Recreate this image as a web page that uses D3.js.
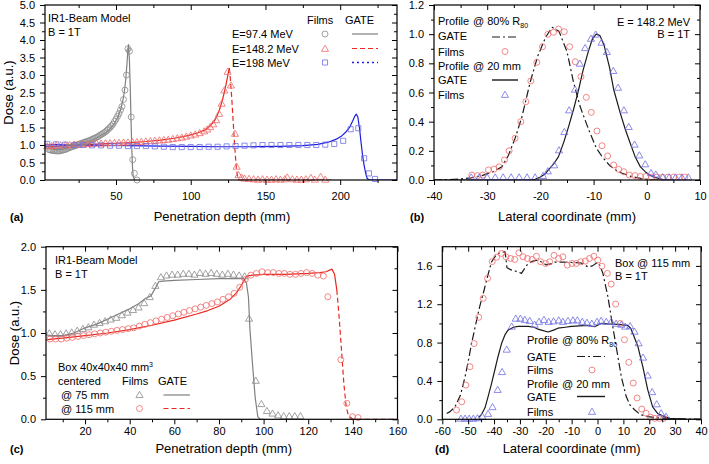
<!DOCTYPE html>
<html><head><meta charset="utf-8">
<script src="https://cdn.jsdelivr.net/npm/d3@7"></script>
<style>
body{margin:0;background:#fff}
svg text{font-family:Arial,"Liberation Sans",Helvetica,sans-serif;fill:#000}
</style></head><body>
<svg id="c" width="709" height="464"></svg>
<script>
// ---------- Panel (a) ----------
const aGrayGateX = [2.5,5,8,10,12,15,18,20,25,30,35,40,43,46,49,51,53,54.5,55.5,56.5,57.3,58,58.4,59,59.5,60,60.5,61,61.5,62.5];
const aGrayGateY = [0.92,0.9,0.88,0.87,0.87,0.88,0.91,0.94,1.01,1.08,1.15,1.28,1.35,1.46,1.62,1.78,2.0,2.25,2.5,2.85,3.3,3.75,3.87,3.4,2.7,1.8,1.0,0.4,0.1,0.0];
const aGrayFilmX = [5,6,7,8,9,10,11,12,13,14,15,16,17,18,19,20,21,22,23,24,25,26,27,28,29,30,31,32,33,34,35,36,37,38,39,40,41,42,43,44,45,46,47,48,49,50,51,52,53,54,55,56,57,58,59,60.2,61.2,62.3,64];
const aGrayFilmY = [0.87,0.86,0.85,0.84,0.84,0.83,0.83,0.83,0.84,0.85,0.86,0.87,0.89,0.91,0.93,0.94,0.96,0.97,0.99,1.0,1.02,1.03,1.05,1.06,1.08,1.09,1.11,1.12,1.14,1.16,1.18,1.2,1.22,1.24,1.27,1.3,1.32,1.35,1.38,1.42,1.46,1.5,1.55,1.6,1.67,1.74,1.82,1.9,2.0,2.1,2.3,2.57,3.0,3.75,3.68,1.8,0.58,0.19,0.0];
const aRedGateX = [2.5,10,20,30,40,50,60,70,80,90,95,100,105,110,113,116,117.3,119,121,123,124.5,125.3,125.8];
const aRedGateY = [0.95,0.96,0.99,1.01,1.03,1.05,1.07,1.1,1.14,1.2,1.24,1.29,1.35,1.44,1.55,1.7,1.81,1.98,2.25,2.6,2.92,3.1,3.2];
const aRedDropX = [125.8,126.5,127.5,128.5,129.5,130.5,131.5,132.5,160,195];
const aRedDropY = [3.2,2.9,2.3,1.6,0.9,0.35,0.05,0,0,0];
const aRedFilmX = [4,7,10,13,16,19,22,25,28,31,34,37,40,43,46,49,52,55,58,61,64,67,70,73,76,79,82,85,88,91,94,97,100,103,106,109,111,113,115,117,119,120.7,122.5,124.7,126.9,129.6,130.7,132,134,136,139,142,145,148,151,154,157,160,163,164.6,168,171,174,177,180.4,183,186.9,190];
const aRedFilmY = [0.97,0.98,0.99,1.0,1.0,1.01,1.02,1.02,1.03,1.03,1.04,1.05,1.05,1.06,1.06,1.07,1.07,1.08,1.08,1.09,1.09,1.1,1.11,1.12,1.13,1.14,1.15,1.16,1.18,1.2,1.22,1.25,1.28,1.31,1.35,1.4,1.45,1.52,1.6,1.72,1.9,2.19,2.57,3.1,2.71,1.33,0.39,0.15,0.08,0.05,0.04,0.03,0.02,0.03,0.02,0.02,0.03,0.02,0.03,0.08,0.03,0.02,0.02,0.03,0.07,0.02,0.1,0.02];
const aBlueGateX = [2.5,10,20,40,60,80,100,120,140,160,175,185,192,197,201,204,206.5,208.5,210,210.8,211.8,213,214,215,216,217,218,219,221,238];
const aBlueGateY = [1.0,1.01,1.0,0.99,0.98,0.97,0.96,0.95,0.95,0.96,0.98,1.02,1.08,1.16,1.26,1.38,1.52,1.7,1.84,1.88,1.8,1.45,1.05,0.7,0.42,0.2,0.05,0.01,0.0,0.0];
const aBlueFilmX = [4,10,16,22,28,34,40,46,52,58,64,70,76,82,88,94,100,106,112,118,124,130,136,142,148,154,160,166,172,178,184,190,196,202,207,212.1,216,219.2,223.3];
const aBlueFilmY = [1.03,1.02,1.01,1.0,1.0,0.99,0.99,0.98,0.98,0.97,0.97,0.97,0.96,0.95,0.94,0.94,0.94,0.94,0.95,0.95,0.96,0.97,0.98,0.99,1.0,1.0,1.0,1.0,1.0,1.0,1.0,1.01,1.03,1.12,1.45,1.48,0.62,0.19,0.03];
const aXTicks = [50,100,150,200];
const aXMinor = [25,75,125,175,225];
const aYTicks = [0,0.5,1,1.5,2,2.5,3,3.5,4,4.5,5];
const aYMinor = [0.25,0.75,1.25,1.75,2.25,2.75,3.25,3.75,4.25,4.75];
const aLegendE = ["E=97.4 MeV","E=148.2 MeV","E=198 MeV"];

// ---------- Panel (b) ----------
const bRedGateX = [-40,-37,-35,-33,-31,-29,-27.25,-26,-24.75,-23.5,-21.9,-20.5,-19,-17.8,-16.5,-15,-13.8,-12.5,-10.9,-9.5,-8.4,-7,-5.5,-4.6,-3,-1,0,2,5];
const bRedGateY = [0.0,0.003,0.008,0.015,0.03,0.055,0.09,0.17,0.286,0.43,0.674,0.85,0.98,1.047,1.02,0.88,0.674,0.5,0.343,0.22,0.16,0.1,0.06,0.046,0.025,0.01,0.005,0.0,0.0];
const bRedFilmX = [-32.9,-31.84,-30.83,-29.77,-28.7,-27.76,-26.76,-25.88,-24.75,-23.68,-22.74,-21.8,-20.67,-19.6,-18.6,-17.53,-16.59,-15.52,-14.51,-13.45,-12.38,-11.37,-10.43,-9.37,-8.42,-7.36,-6.23,-5.29,-4.34,-3.28,-2.24,-1.2,-0.16,0.88,1.92,2.96,4.0,5.04,6.08,7.12];
const bRedFilmY = [0.034,0.03,0.034,0.069,0.075,0.09,0.137,0.2,0.286,0.4,0.537,0.679,0.807,0.914,0.999,1.013,1.035,1.017,0.914,0.811,0.709,0.567,0.464,0.336,0.235,0.165,0.103,0.073,0.057,0.034,0.03,0.025,0.025,0.02,0.02,0.02,0.02,0.02,0.02,0.02];
const bBlkGateX = [-40,-30,-22,-21,-20,-19,-18.5,-17.5,-16.6,-15.6,-14.7,-13.8,-12.9,-12,-11,-10.2,-9.5,-8.8,-8,-7,-6.2,-5,-4,-3,-2.2,-1.2,-0.3,0.5,1.3,2.9,5];
const bBlkGateY = [0,0,0,0.005,0.02,0.045,0.069,0.11,0.16,0.26,0.366,0.48,0.606,0.75,0.88,0.97,1.0,0.99,0.92,0.77,0.617,0.46,0.343,0.24,0.16,0.09,0.057,0.035,0.02,0.005,0];
const bBlueFilmX = [-33,-31.5,-30,-28.5,-27,-25.5,-24,-22.5,-21,-19.5,-18.6,-17.4,-16.5,-15.5,-14.6,-13.5,-12.6,-11.6,-10.5,-9.6,-8.5,-7.5,-6.3,-5.4,-4.3,-3.4,-2.3,-1.4,-0.3,0.8,1.7,3.0,4.2,5.4,6.6,7.8];
const bBlueFilmY = [0.02,0.02,0.02,0.02,0.02,0.02,0.02,0.02,0.02,0.03,0.062,0.103,0.206,0.331,0.48,0.622,0.8,0.907,0.971,0.999,0.944,0.88,0.75,0.635,0.48,0.366,0.245,0.171,0.11,0.05,0.04,0.02,0.02,0.02,0.02,0.02];
const bXTicks = [-40,-30,-20,-10,0,10];
const bXMinor = [-35,-25,-15,-5,5];
const bYTicks = [0,0.2,0.4,0.6,0.8,1.0,1.2];
const bYMinor = [0.1,0.3,0.5,0.7,0.9,1.1];

// ---------- Panel (c) ----------
const cGrayGateX = [2.5,5,10,15,20,25,30,35,40,44,47,49.5,51.5,53,55,60,70,80,88,91,92.3,93.2,93.9,95,96.2,97.4,98.5,100];
const cGrayGateY = [0.98,0.97,0.97,1.0,1.06,1.1,1.16,1.22,1.28,1.34,1.4,1.43,1.52,1.594,1.6,1.61,1.62,1.63,1.63,1.632,1.58,1.42,1.036,0.65,0.26,0.03,0,0];
const cGrayFilmX = [4,6.5,9,11.5,14,16.5,19,21.5,24,26.5,29,31.5,34,36.5,39,41.5,44,46.5,49,51.5,54,56.5,59,61.5,64,66.5,69,71.5,74,76.5,79,81.5,84,86.5,89,91.5,93.5,96.5,99,101.5,104,106.5,109,111.5,114,116.5];
const cGrayFilmY = [1.0,0.99,0.99,1.0,1.01,1.03,1.05,1.07,1.1,1.12,1.14,1.16,1.18,1.21,1.24,1.27,1.3,1.35,1.42,1.55,1.65,1.67,1.68,1.68,1.69,1.69,1.68,1.7,1.69,1.7,1.69,1.68,1.69,1.68,1.67,1.66,1.17,0.45,0.18,0.1,0.07,0.05,0.04,0.04,0.04,0.04];
const cRedGateX = [2.5,5,10,20,30,40,50,60,70,75,80,85,88,90,91.5,92.5,95,100,110,120,125,128,130.6,131.8,132.8];
const cRedGateY = [0.92,0.93,0.94,0.97,1.0,1.04,1.09,1.15,1.22,1.26,1.31,1.39,1.47,1.55,1.62,1.66,1.67,1.68,1.68,1.69,1.7,1.71,1.74,1.68,1.5];
const cRedDropX = [132.8,133.8,135,136,137,138,140,160];
const cRedDropY = [1.5,1.2,0.77,0.4,0.15,0.04,0,0];
const cRedFilmX = [4.3,6.8,9.3,11.8,14.3,16.8,19.3,21.8,24.3,26.8,29.3,31.8,34.3,36.8,39.3,41.8,44.3,46.8,49.3,51.8,54.3,56.8,59.3,61.8,64.3,66.8,69.3,71.8,74.3,76.8,79.3,81.8,84.3,86.8,89.3,91.8,94.3,96.8,99.3,101.8,104.3,106.8,109.3,111.8,114.3,116.8,119.3,121.8,124.3,126.8,128.8,134.6,137.3,139.8,142.3];
const cRedFilmY = [0.93,0.93,0.93,0.94,0.95,0.96,0.97,0.98,0.99,1.0,1.01,1.02,1.03,1.04,1.05,1.06,1.08,1.1,1.12,1.14,1.16,1.18,1.2,1.22,1.24,1.26,1.28,1.3,1.32,1.34,1.36,1.39,1.42,1.46,1.53,1.62,1.67,1.69,1.71,1.7,1.7,1.69,1.69,1.68,1.68,1.69,1.7,1.69,1.67,1.66,1.42,0.69,0.185,0.03,0.02];
const cXTicks = [20,40,60,80,100,120,140,160];
const cXMinor = [10,30,50,70,90,110,130,150];
const cYTicks = [0,0.5,1,1.5,2];
const cYMinor = [0.25,0.75,1.25,1.75];

// ---------- Panel (d) ----------
const dDashX = [-58.3,-57,-55.1,-53,-51.2,-50,-48.7,-47,-45.5,-44,-42.9,-41,-39.5,-38.4,-37,-35.8,-35.5,-35,-33.2,-31,-29.4,-28,-26.8,-25,-23,-21,-19.8,-18,-16.6,-13,-10,-6.3,-3.7,-2,0.14,1,2.1,4.0,5.9,7.9,9.2,11.1,12.5,14.3,16.5,19.4,23,27.1,32,40];
const dDashY = [0.06,0.08,0.13,0.25,0.444,0.6,0.79,1.0,1.18,1.33,1.45,1.64,1.7,1.73,1.74,1.748,1.7,1.58,1.556,1.54,1.522,1.58,1.626,1.65,1.66,1.63,1.61,1.62,1.64,1.64,1.635,1.63,1.59,1.6,1.64,1.6,1.52,1.28,0.965,0.65,0.444,0.237,0.15,0.1,0.05,0.028,0.015,0.01,0.005,0.0];
const dSolidX = [-46,-44.8,-43.5,-42.3,-41,-39.7,-38.5,-37.1,-35.8,-34.6,-32.5,-30.7,-28,-26.8,-24.5,-23,-21.7,-19.1,-17,-15.3,-12.5,-10.1,-7,-3.7,-1.1,1.4,4,7.9,11.7,12.8,13.6,15.6,17.5,19.4,21.3,23.3,25.8,28,33,40];
const dSolidY = [0.02,0.052,0.12,0.237,0.37,0.514,0.65,0.79,0.88,0.93,0.96,0.97,0.97,0.97,0.96,0.94,0.93,0.91,0.93,0.95,0.96,0.97,0.975,0.98,0.965,1.0,0.995,0.99,0.98,0.95,0.9,0.76,0.55,0.31,0.13,0.06,0.028,0.01,0.003,0];
const dRedFilmX = [-54.5,-52.5,-50.9,-49.3,-47.7,-45.9,-44.2,-42.5,-40.7,-39.0,-37.1,-35.4,-33.6,-32,-30.4,-28.8,-27.1,-25.3,-23.6,-22,-20.1,-18.5,-16.8,-15.0,-13.4,-11.7,-9.9,-8.2,-6.5,-4.7,-3.1,-1.4,0.1,1.7,3.8,5.3,7.0,8.8,10.4,12.1,13.8,15.3,17.1,18.8,20.5,22.2,23.9,25.6];
const dRedFilmY = [0.097,0.183,0.357,0.548,0.79,1.064,1.262,1.47,1.645,1.69,1.73,1.695,1.677,1.667,1.736,1.695,1.677,1.667,1.70,1.643,1.625,1.643,1.71,1.677,1.695,1.608,1.625,1.625,1.643,1.65,1.677,1.70,1.66,1.598,1.522,1.41,1.201,1.0,0.83,0.594,0.378,0.222,0.107,0.063,0.021,0.01,0.01,0.01];
const dBlueFilmX = [-52.8,-51.2,-49.6,-48,-46.4,-44.5,-42.3,-40.6,-38.6,-36.9,-35.1,-33.2,-31.6,-29.8,-28.1,-26.2,-24.3,-22.6,-20.7,-18.9,-17,-15,-13.4,-11.4,-9.5,-7.8,-5.9,-4.1,-2.2,-0.2,1.4,3.4,5.3,7.2,9.2,10.7,12.6,14.3,15.9,17.6,19.4,21.1,22.9,24.6,26.5];
const dBlueFilmY = [0.01,0.01,0.01,0.01,0.015,0.03,0.06,0.13,0.31,0.496,0.73,0.97,1.053,1.053,1.04,1.03,0.99,1.02,1.04,1.02,1.025,1.035,1.02,1.03,1.035,1.035,1.02,1.01,1.0,1.02,1.03,1.02,1.02,1.0,0.99,0.97,0.975,0.917,0.796,0.647,0.46,0.287,0.16,0.066,0.03];
const dXTicks = [-60,-50,-40,-30,-20,-10,0,10,20,30,40];
const dXMinor = [-55,-45,-35,-25,-15,-5,5,15,25,35];
const dYTicks = [0,0.4,0.8,1.2,1.6];
const dYMinor = [0.2,0.6,1.0,1.4];

// ---------- colours ----------
const GRAY_L = "#808080", GRAY_M = "#8a8a8a";
const RED_L = "#e8281e", RED_M = "#ef6a6a";
const BLUE_L = "#1c1ce0", BLUE_M = "#6f6fe6";
const BLK = "#1a1a1a";

const svg = d3.select("#c");
const fmt1 = d3.format(".1f");
const fmtInt = d => String(d);

function panel(cfg){
  const x = d3.scaleLinear().domain(cfg.xd).range([cfg.L, cfg.R]);
  const y = d3.scaleLinear().domain(cfg.yd).range([cfg.B, cfg.T]);
  const g = svg.append("g");
  const id = "clip" + cfg.name;
  svg.append("clipPath").attr("id", id).append("rect")
    .attr("x", cfg.L).attr("y", cfg.T).attr("width", cfg.R - cfg.L).attr("height", cfg.B - cfg.T);
  const plot = g.append("g").attr("clip-path", `url(#${id})`);
  const marksG = g.append("g");
  const ax = g.append("g");
  const style = sel => { sel.select(".domain").remove(); sel.selectAll("line").attr("stroke", "#000").attr("stroke-width", 1); sel.selectAll("text").attr("font-size", 11).attr("fill","#000"); };
  ax.append("g").attr("transform", `translate(0,${cfg.B})`)
    .call(d3.axisBottom(x).tickValues(cfg.xMajor).tickSize(5).tickPadding(cfg.xPad).tickFormat(fmtInt)).call(style);
  ax.append("g").attr("transform", `translate(0,${cfg.B})`)
    .call(d3.axisBottom(x).tickValues(cfg.xMinor).tickSize(3).tickFormat("")).call(style);
  ax.append("g").attr("transform", `translate(0,${cfg.T})`)
    .call(d3.axisTop(x).tickValues(cfg.xMajor).tickSize(-5).tickFormat("")).call(style);
  ax.append("g").attr("transform", `translate(0,${cfg.T})`)
    .call(d3.axisTop(x).tickValues(cfg.xMinor).tickSize(-3).tickFormat("")).call(style);
  ax.append("g").attr("transform", `translate(${cfg.L},0)`)
    .call(d3.axisLeft(y).tickValues(cfg.yMajor).tickSize(5).tickPadding(5).tickFormat(fmt1)).call(style);
  ax.append("g").attr("transform", `translate(${cfg.L},0)`)
    .call(d3.axisLeft(y).tickValues(cfg.yMinor).tickSize(3).tickFormat("")).call(style);
  ax.append("g").attr("transform", `translate(${cfg.R},0)`)
    .call(d3.axisRight(y).tickValues(cfg.yMajor).tickSize(-5).tickFormat("")).call(style);
  ax.append("g").attr("transform", `translate(${cfg.R},0)`)
    .call(d3.axisRight(y).tickValues(cfg.yMinor).tickSize(-3).tickFormat("")).call(style);
  ax.append("rect").attr("x", cfg.L).attr("y", cfg.T).attr("width", cfg.R - cfg.L).attr("height", cfg.B - cfg.T)
    .attr("fill", "none").attr("stroke", "#000").attr("stroke-width", 1.2);
  g.append("text").attr("x", (cfg.L + cfg.R) / 2 + cfg.titleDx).attr("y", cfg.titleY).attr("text-anchor", "middle")
    .attr("font-size", 13).text(cfg.xTitle);
  if (cfg.yTitle) {
    g.append("text").attr("transform", `translate(${cfg.yTitleX},${(cfg.T + cfg.B) / 2}) rotate(-90)`)
      .attr("text-anchor", "middle").attr("font-size", 13).text(cfg.yTitle);
  }
  g.append("text").attr("x", cfg.letterX).attr("y", cfg.titleY).attr("font-size", 11).attr("font-weight", "bold").text(cfg.letter);
  return {x, y, plot, marksG, g};
}

function drawLine(p, xs, ys, color, w, dash){
  const pts = d3.zip(xs, ys);
  p.plot.append("path").datum(pts)
    .attr("d", d3.line().x(d => p.x(d[0])).y(d => p.y(d[1])))
    .attr("fill", "none").attr("stroke", color).attr("stroke-width", w)
    .attr("stroke-dasharray", dash || null).attr("stroke-linejoin", "round");
}
const symT = d3.symbol().type(d3.symbolTriangle).size(22)();
const symS = d3.symbol().type(d3.symbolSquare).size(26)();
function drawMarks(p, xs, ys, type, color){
  const pts = d3.zip(xs, ys);
  const sel = p.marksG.append("g").selectAll("x").data(pts).enter();
  if (type === "circle") {
    sel.append("circle").attr("cx", d => p.x(d[0])).attr("cy", d => p.y(d[1])).attr("r", 3)
      .attr("fill", "none").attr("stroke", color).attr("stroke-width", 0.8);
  } else {
    sel.append("path").attr("d", type === "tri" ? symT : symS)
      .attr("transform", d => `translate(${p.x(d[0])},${p.y(d[1]) + (type === "tri" ? 0.8 : 0)})`)
      .attr("fill", "none").attr("stroke", color).attr("stroke-width", 0.8);
  }
}
function legLine(x1, x2, y, color, w, dash){
  svg.append("line").attr("x1", x1).attr("x2", x2).attr("y1", y).attr("y2", y)
    .attr("stroke", color).attr("stroke-width", w).attr("stroke-dasharray", dash || null);
}
function legMark(x, y, type, color){
  if (type === "circle") svg.append("circle").attr("cx", x).attr("cy", y).attr("r", 3).attr("fill", "none").attr("stroke", color).attr("stroke-width", 0.8);
  else svg.append("path").attr("d", type === "tri" ? symT : symS).attr("transform", `translate(${x},${y})`).attr("fill", "none").attr("stroke", color).attr("stroke-width", 0.8);
}
function txt(x, y, s, anchor){
  return svg.append("text").attr("x", x).attr("y", y).attr("font-size", 11).attr("text-anchor", anchor || "start").text(s);
}
const DASHDOT = "8,3,2,3";

// ===== Panel (a)
const pa = panel({name:"a", L:45, R:397, T:5, B:180, xd:[2.5,238], yd:[0,5],
  xMajor:aXTicks, xMinor:aXMinor, yMajor:aYTicks, yMinor:aYMinor, xPad:7,
  xTitle:"Penetration depth (mm)", titleY:221, titleDx:1, yTitle:"Dose (a.u.)", yTitleX:13, letter:"(a)", letterX:10});
drawMarks(pa, aGrayFilmX, aGrayFilmY, "circle", GRAY_M);
drawMarks(pa, aRedFilmX, aRedFilmY, "tri", RED_M);
drawMarks(pa, aBlueFilmX, aBlueFilmY, "sq", BLUE_M);
drawLine(pa, aGrayGateX, aGrayGateY, GRAY_L, 1.2);
drawLine(pa, aRedGateX, aRedGateY, RED_L, 1.2);
drawLine(pa, aRedDropX, aRedDropY, RED_L, 1.2, "5,3");
drawLine(pa, aBlueGateX, aBlueGateY, BLUE_L, 1.2);
txt(48, 22, "IR1-Beam Model");
txt(48, 36, "B = 1T");
txt(307, 24, "Films");
txt(345, 24, "GATE");
const legEY = [34, 48.5, 62.5];
aLegendE.forEach((s, i) => txt(232, legEY[i] + 4, s));
legMark(325, legEY[0], "circle", GRAY_M);
legMark(325, legEY[1] + 0.8, "tri", RED_M);
legMark(325, legEY[2], "sq", BLUE_M);
legLine(352, 378, legEY[0], GRAY_L, 1.2);
legLine(352, 378, legEY[1], RED_L, 1.2, "5,3");
legLine(352, 378, legEY[2], BLUE_L, 1.3, "2,3");

// ===== Panel (b)
const pb = panel({name:"b", L:434, R:700, T:5, B:180, xd:[-40,10], yd:[0,1.2],
  xMajor:bXTicks, xMinor:bXMinor, yMajor:bYTicks, yMinor:bYMinor, xPad:7,
  xTitle:"Lateral coordinate (mm)", titleY:221, titleDx:0, letter:"(b)", letterX:410});
drawMarks(pb, bRedFilmX, bRedFilmY, "circle", RED_M);
drawMarks(pb, bBlueFilmX, bBlueFilmY, "tri", BLUE_M);
drawLine(pb, bRedGateX, bRedGateY, BLK, 1.2, DASHDOT);
drawLine(pb, bBlkGateX, bBlkGateY, BLK, 1.2);
const bRows = [21, 36, 51.5, 66, 80, 94.5];
txt(438, bRows[0] + 4, "Profile");
const b80 = txt(473, bRows[0] + 4, "@ 80% R");
b80.append("tspan").attr("font-size", 7).attr("dy", 3).text("80");
txt(438, bRows[1] + 4, "GATE");
txt(438, bRows[2] + 4, "Films");
txt(438, bRows[3] + 4, "Profile");
txt(473, bRows[3] + 4, "@ 20 mm");
txt(438, bRows[4] + 4, "GATE");
txt(438, bRows[5] + 4, "Films");
legLine(492, 517, bRows[1] + 1, BLK, 1.2, DASHDOT);
legMark(505, bRows[2], "circle", RED_M);
legLine(492, 518, bRows[4], BLK, 1.4);
legMark(505, bRows[5] + 0.8, "tri", BLUE_M);
txt(690, 26, "E = 148.2 MeV", "end");
txt(690, 38, "B = 1T", "end");

// ===== Panel (c)
const pc = panel({name:"c", L:46, R:397.5, T:246.7, B:419.3, xd:[2.5,160], yd:[0,2],
  xMajor:cXTicks, xMinor:cXMinor, yMajor:cYTicks, yMinor:cYMinor, xPad:3,
  xTitle:"Penetration depth (mm)", titleY:453, titleDx:2, yTitle:"Dose (a.u.)", yTitleX:19, letter:"(c)", letterX:10});
drawMarks(pc, cGrayFilmX, cGrayFilmY, "tri", GRAY_M);
drawMarks(pc, cRedFilmX, cRedFilmY, "circle", RED_M);
drawLine(pc, cGrayGateX, cGrayGateY, GRAY_L, 1.2);
drawLine(pc, cRedGateX, cRedGateY, RED_L, 1.2);
drawLine(pc, cRedDropX, cRedDropY, RED_L, 1.2, "5,3");
txt(55, 264, "IR1-Beam Model");
txt(55, 278, "B = 1T");
const box = txt(58, 371, "Box 40x40x40 mm");
box.append("tspan").attr("font-size", 7).attr("dy", -4).text("3");
txt(58, 385, "centered");
txt(122, 385, "Films");
txt(158, 385, "GATE");
txt(61, 399, "@ 75 mm");
txt(61, 412.5, "@ 115 mm");
legMark(139.5, 395.5, "tri", GRAY_M);
legMark(139.5, 408.5, "circle", RED_M);
legLine(163.5, 190, 395, GRAY_L, 1.2);
legLine(163.5, 190, 408.5, RED_L, 1.2, "5,3");

// ===== Panel (d)
const pd = panel({name:"d", L:442.3, R:701, T:246.7, B:419.3, xd:[-60,40], yd:[0,1.8],
  xMajor:dXTicks, xMinor:dXMinor, yMajor:dYTicks, yMinor:dYMinor, xPad:3,
  xTitle:"Lateral coordinate (mm)", titleY:453, titleDx:0, letter:"(d)", letterX:435});
drawMarks(pd, dRedFilmX, dRedFilmY, "circle", RED_M);
drawMarks(pd, dBlueFilmX, dBlueFilmY, "tri", BLUE_M);
drawLine(pd, dDashX, dDashY, BLK, 1.2, DASHDOT);
drawLine(pd, dSolidX, dSolidY, BLK, 1.2);
txt(615, 267, "Box @ 115 mm");
txt(615, 279.5, "B = 1T");
const dRows = [340, 356.5, 370, 384, 396.5, 411.5];
txt(527, dRows[0] + 4, "Profile");
const d80 = txt(562, dRows[0] + 4, "@ 80% R");
d80.append("tspan").attr("font-size", 7).attr("dy", 3).text("80");
txt(527, dRows[1] + 4, "GATE");
txt(527, dRows[2] + 4, "Films");
txt(527, dRows[3] + 4, "Profile");
txt(562, dRows[3] + 4, "@ 20 mm");
txt(527, dRows[4] + 4, "GATE");
txt(527, dRows[5] + 4, "Films");
legLine(577, 605, dRows[1], BLK, 1.2, DASHDOT);
legMark(592, dRows[2], "circle", RED_M);
legLine(577, 605, dRows[4], BLK, 1.4);
legMark(592, dRows[5] + 0.8, "tri", BLUE_M);
</script>
</body></html>
